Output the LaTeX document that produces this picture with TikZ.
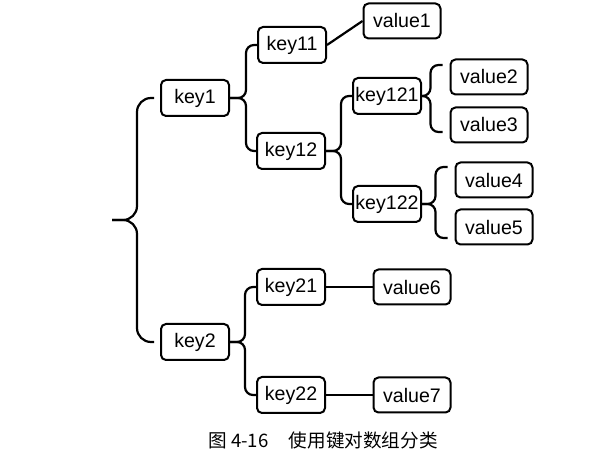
\documentclass[tikz,border=0pt]{standalone}
\usepackage{fontspec}
\setmainfont{Liberation Sans}
\newfontfamily\cjk{Noto Sans CJK SC}
\usepackage{tikz}

\begin{document}
\begin{tikzpicture}[x=0.5pt,y=-0.5pt,line width=1.1pt,
  box/.style={draw, rounded corners=2.5pt, line width=1pt, inner sep=0pt, minimum height=18pt, font=\fontsize{9.8}{11}\selectfont},
  key/.style={box, minimum width=34pt},
  val/.style={box, minimum width=38.5pt, minimum height=17.5pt},
  link/.style={rounded corners=4pt}]
\useasboundingbox (0,0) rectangle (604,458);
\node[key] (key1) at (195,98) {key1};
\node[key] (key11) at (292,45) {key11};
\node[key] (key12) at (291,151) {key12};
\node[key] (key121) at (387,96) {key121};
\node[key] (key122) at (387,204) {key122};
\node[key] (key2) at (195,342) {key2};
\node[key] (key21) at (291,287) {key21};
\node[key] (key22) at (291,395) {key22};
\node[val] (value1) at (402,21) {value1};
\node[val] (value2) at (489,77) {value2};
\node[val] (value3) at (489,125) {value3};
\node[val] (value4) at (494,180) {value4};
\node[val] (value5) at (494,227) {value5};
\node[val] (value6) at (412,287) {value6};
\node[val] (value7) at (412,395) {value7};
\node[font=\cjk\fontsize{9.3}{11}\selectfont] (caption) at (323,440) {图 4-16\hspace{1.1em}使用键对数组分类};
% big brace
\coordinate (root) at (112,220);
\draw[rounded corners=7pt] ([xshift=-3pt]key1.west) -| ([xshift=12.5pt]root) -- (root);
\draw[rounded corners=7pt] ([xshift=-3pt]key2.west) -| ([xshift=12.5pt]root) -- (root);
% key braces
\foreach \p/\a/\b in {key1/key11/key12, key12/key121/key122, key2/key21/key22} {
  \draw[link] (\a.west) -| ([xshift=-5.5pt]\a.west |- \p.east) -- (\p.east);
  \draw[link] (\b.west) -| ([xshift=-5.5pt]\a.west |- \p.east) -- (\p.east);
}
% value braces
\foreach \p/\a/\b/\u/\d in {key121/value2/value3/6/3.5, key122/value4/value5/6.5/5.5} {
  \draw[link] ([shift={(-3.5pt,\u pt)}]\a.west) -| ([xshift=-9.5pt]\a.west |- \p.east) -- (\p.east);
  \draw[link] ([shift={(-3.5pt,-\d pt)}]\b.west) -| ([xshift=-9.5pt]\a.west |- \p.east) -- (\p.east);
}
\draw (key11.east) -- (value1.west);
\draw (key21.east) -- (value6.west);
\draw (key22.east) -- (value7.west);
\end{tikzpicture}
\end{document}
